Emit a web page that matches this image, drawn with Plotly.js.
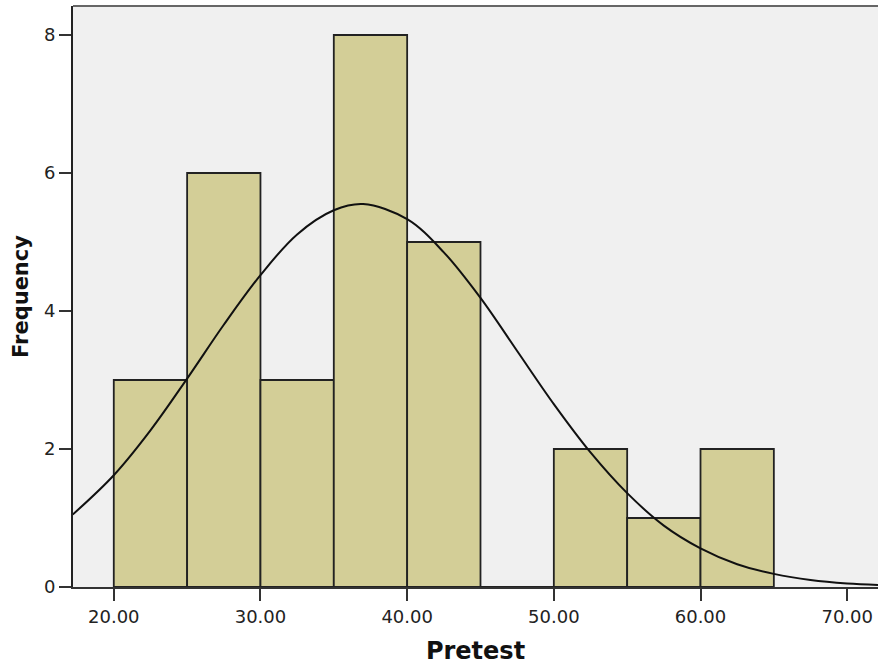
<!DOCTYPE html>
<html>
<head>
<meta charset="utf-8">
<script src="https://cdn.plot.ly/plotly-3.0.1.min.js"></script>
<style>html,body{margin:0;padding:0;background:#fff;}#chart{width:878px;height:668px;}</style>
</head>
<body>
<div id="chart"></div>
<script>
// Histogram bins (bin centers, width 5) and counts
var binCenters = [22.5, 27.5, 32.5, 37.5, 42.5, 47.5, 52.5, 57.5, 62.5];
var binCounts  = [3, 6, 3, 8, 5, 0, 2, 1, 2];

// Normal curve points
var curveX = [17.2, 20, 22.5, 25, 27.5, 30, 32.5, 35, 37, 40, 42.5, 45, 47.5, 50, 52.5, 55, 57.5, 60, 62.5, 65, 67.5, 70, 72.1];
var curveY = [1.05, 1.62, 2.27, 3.02, 3.80, 4.52, 5.11, 5.46, 5.55, 5.33, 4.85, 4.19, 3.42, 2.65, 1.95, 1.36, 0.89, 0.56, 0.33, 0.19, 0.10, 0.05, 0.03];

// Axis ticks
var xTickVals = [20, 30, 40, 50, 60, 70];
var xTickText = ["20.00", "30.00", "40.00", "50.00", "60.00", "70.00"];
var yTickVals = [0, 2, 4, 6, 8];
var yTickText = ["0", "2", "4", "6", "8"];

var traces = [
  {
    type: 'bar',
    x: binCenters,
    y: binCounts,
    width: 5,
    marker: {color: '#d3ce97', line: {color: '#222222', width: 1.8}},
    hoverinfo: 'x+y'
  },
  {
    type: 'scatter',
    mode: 'lines',
    x: curveX,
    y: curveY,
    line: {color: '#111111', width: 2, shape: 'spline'},
    hoverinfo: 'skip'
  }
];

var tickFont = {family: 'DejaVu Sans, sans-serif', size: 18, color: '#222222'};

var layout = {
  width: 878,
  height: 668,
  margin: {l: 73, r: 0, t: 6, b: 81},
  paper_bgcolor: '#ffffff',
  plot_bgcolor: '#f0f0f0',
  showlegend: false,
  bargap: 0,
  xaxis: {
    range: [17.22, 72.1],
    tickvals: xTickVals,
    ticktext: xTickText,
    ticks: 'outside',
    ticklen: 12,
    tickwidth: 2,
    tickcolor: '#333333',
    showline: true,
    linecolor: '#333333',
    linewidth: 2,
    showgrid: false,
    zeroline: false,
    tickfont: tickFont,
    title: {text: 'Pretest', font: {family: 'DejaVu Sans, sans-serif', size: 24, weight: 'bold', color: '#111111'}, standoff: 17}
  },
  yaxis: {
    range: [0, 8.42],
    tickvals: yTickVals,
    ticktext: yTickText,
    ticks: 'outside',
    ticklen: 12,
    tickwidth: 2,
    tickcolor: '#333333',
    showline: true,
    linecolor: '#222222',
    linewidth: 2,
    showgrid: false,
    zeroline: false,
    tickfont: tickFont,
    title: {text: 'Frequency', font: {family: 'DejaVu Sans, sans-serif', size: 21, weight: 'bold', color: '#111111'}, standoff: 10}
  },
  shapes: [
    {type: 'line', xref: 'paper', yref: 'paper', x0: 0, x1: 1, y0: 1, y1: 1, line: {color: '#666666', width: 2}}
  ]
};

Plotly.newPlot('chart', traces, layout, {displayModeBar: false, staticPlot: true});
</script>
</body>
</html>
